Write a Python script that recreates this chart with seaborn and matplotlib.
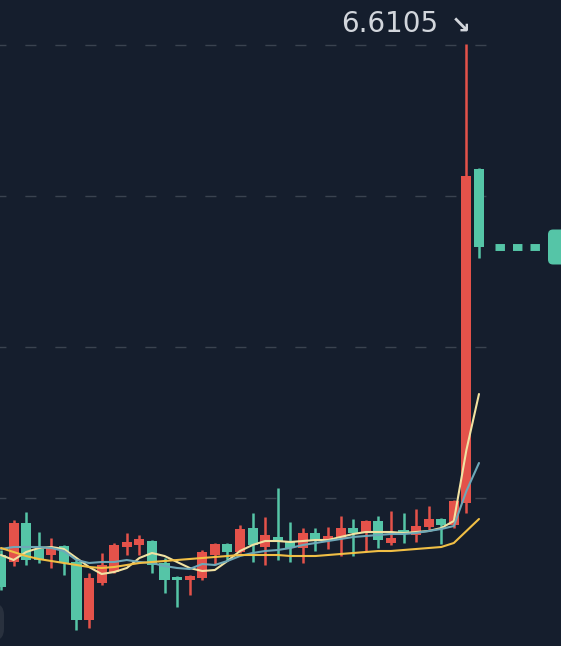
import numpy as np
import pandas as pd
import matplotlib
matplotlib.use("Agg")
import matplotlib.pyplot as plt
from matplotlib.patches import FancyBboxPatch
from matplotlib.transforms import IdentityTransform
import seaborn as sns

# ── DATA ──────────────────────────────────────────────────────────────────────
OPEN  = [1.50, 1.43, 1.82, 1.56, 1.50, 1.59, 1.43, 0.85, 1.22, 1.33, 1.58, 1.60, 1.64,
         1.42, 1.28, 1.25, 1.27, 1.50, 1.61, 1.53, 1.77, 1.58, 1.68, 1.64, 1.57, 1.72,
         1.66, 1.67, 1.77, 1.72, 1.84, 1.62, 1.75, 1.70, 1.78, 1.86, 1.80, 2.02, 5.36]
HIGH  = [1.55, 1.85, 1.93, 1.73, 1.67, 1.60, 1.45, 1.32, 1.52, 1.62, 1.72, 1.70, 1.65,
         1.47, 1.29, 1.30, 1.55, 1.62, 1.62, 1.80, 1.92, 1.88, 2.17, 1.83, 1.77, 1.77,
         1.78, 1.89, 1.86, 1.85, 1.89, 1.94, 1.92, 1.96, 1.99, 1.87, 2.05, 6.6105, 5.37]
LOW   = [1.15, 1.39, 1.40, 1.42, 1.37, 1.30, 0.75, 0.77, 1.20, 1.32, 1.50, 1.50, 1.32,
         1.12, 0.98, 1.10, 1.25, 1.40, 1.45, 1.52, 1.43, 1.40, 1.45, 1.43, 1.42, 1.54,
         1.56, 1.49, 1.49, 1.54, 1.57, 1.60, 1.62, 1.63, 1.75, 1.61, 1.77, 1.92, 4.47]
CLOSE = [1.18, 1.82, 1.45, 1.45, 1.57, 1.42, 0.85, 1.27, 1.40, 1.60, 1.63, 1.66, 1.40,
         1.25, 1.25, 1.29, 1.53, 1.61, 1.53, 1.76, 1.60, 1.70, 1.63, 1.57, 1.72, 1.64,
         1.69, 1.77, 1.72, 1.84, 1.65, 1.67, 1.71, 1.79, 1.86, 1.80, 2.04, 5.29, 4.58]

MA5   = [1.50, 1.45, 1.53, 1.57, 1.58, 1.56, 1.47, 1.38, 1.31, 1.33, 1.37, 1.47, 1.52,
         1.49, 1.43, 1.37, 1.34, 1.35, 1.44, 1.54, 1.60, 1.64, 1.64, 1.63, 1.64, 1.65,
         1.65, 1.68, 1.71, 1.73, 1.73, 1.73, 1.72, 1.73, 1.74, 1.77, 1.84, 2.55, 3.11]
MA10  = [1.56, 1.58, 1.58, 1.58, 1.57, 1.54, 1.45, 1.42, 1.43, 1.43, 1.45, 1.43, 1.42,
         1.39, 1.37, 1.36, 1.41, 1.40, 1.44, 1.49, 1.52, 1.54, 1.55, 1.57, 1.60, 1.62,
         1.64, 1.66, 1.68, 1.69, 1.70, 1.71, 1.71, 1.72, 1.74, 1.76, 1.79, 2.14, 2.42]
MA30  = [1.57, 1.53, 1.49, 1.46, 1.44, 1.42, 1.40, 1.38, 1.37, 1.38, 1.40, 1.42, 1.43,
         1.44, 1.45, 1.46, 1.47, 1.48, 1.49, 1.50, 1.50, 1.50, 1.50, 1.49, 1.49, 1.49,
         1.50, 1.51, 1.52, 1.53, 1.54, 1.54, 1.55, 1.56, 1.57, 1.58, 1.62, 1.74, 1.86]

GRID_LEVELS = [6.60, 5.09, 3.58, 2.07]
PEAK_LABEL  = "6.6105"

# ── STYLE ─────────────────────────────────────────────────────────────────────
BG    = "#151e2d"
UP    = "#e4524a"
DOWN  = "#55c5a7"
GRIDC = "#3a4350"
TEXTC = "#d2d6dc"
MA_COLORS = {"MA5": "#f1e2a2", "MA10": "#6ea8b8", "MA30": "#f1bf45"}

sns.set_theme(style="dark", rc={"axes.facecolor": BG, "figure.facecolor": BG})
plt.rcParams["font.family"] = ["DejaVu Sans"]
plt.rcParams["lines.scale_dashes"] = False

W, H = 561, 646
fig = plt.figure(figsize=(W / 100, H / 100), dpi=100)
ax = fig.add_axes([0, 0, 1, 1])
ax.set_facecolor(BG)

idx = np.arange(len(OPEN))
df = pd.DataFrame({"i": idx, "o": OPEN, "h": HIGH, "l": LOW, "c": CLOSE})
colors = np.where(df.c >= df.o, UP, DOWN)

# grid (dashed, stops before the price marker area)
ax.hlines(GRID_LEVELS, -1, 39.0, colors=GRIDC, lw=1.0,
          linestyles=[(3, (8.0, 13.6))], zorder=1)

# candles
ax.vlines(df.i, df.l, df.h, colors=colors, lw=1.8, zorder=3)
body_lo = np.minimum(df.o, df.c)
body_h = np.maximum(np.abs(df.c - df.o), 0.025)
ax.bar(df.i, body_h, bottom=body_lo, width=0.8, color=colors, linewidth=0, zorder=3)

# moving averages
ma = pd.DataFrame({"i": idx, "MA5": MA5, "MA10": MA10, "MA30": MA30}).melt(
    "i", var_name="ma", value_name="v")
sns.lineplot(data=ma, x="i", y="v", hue="ma", palette=MA_COLORS, lw=1.5,
             legend=False, ax=ax, zorder=4, sort=False)

ax.set_xlim(-0.08, 44.52)
ax.set_ylim(0.59, 7.05)
ax.set_axis_off()

# last price dotted line + marker
last = CLOSE[-1]
px = lambda p: (p - 1) / 12.58
hl = ax.hlines(last, px(495), px(541), colors=DOWN, lw=5,
               linestyles=[(0, (6.8, 5.8))], zorder=4)
hl.set_capstyle("butt")

yd = ax.transData.transform((0, last))[1]
ax.add_patch(FancyBboxPatch((548, yd - 17.5), 40, 35,
                            boxstyle="round,pad=0,rounding_size=5",
                            fc=DOWN, ec="none", transform=IdentityTransform(),
                            clip_on=False, zorder=5))

# faint control at bottom-left
ax.add_patch(FancyBboxPatch((-30, H - 641), 34, 38,
                            boxstyle="round,pad=0,rounding_size=12",
                            fc="#29313e", ec="none", transform=IdentityTransform(),
                            clip_on=False, zorder=2))

# peak label
fig.text(341 / W, 1 - 32 / H, PEAK_LABEL, fontsize=20, color=TEXTC,
         ha="left", va="baseline")
fig.text(451 / W, 1 - 34 / H, "↘", fontsize=17, color=TEXTC,
         ha="left", va="baseline", fontweight="bold")

fig.savefig("out.png", dpi=100, facecolor=BG)
